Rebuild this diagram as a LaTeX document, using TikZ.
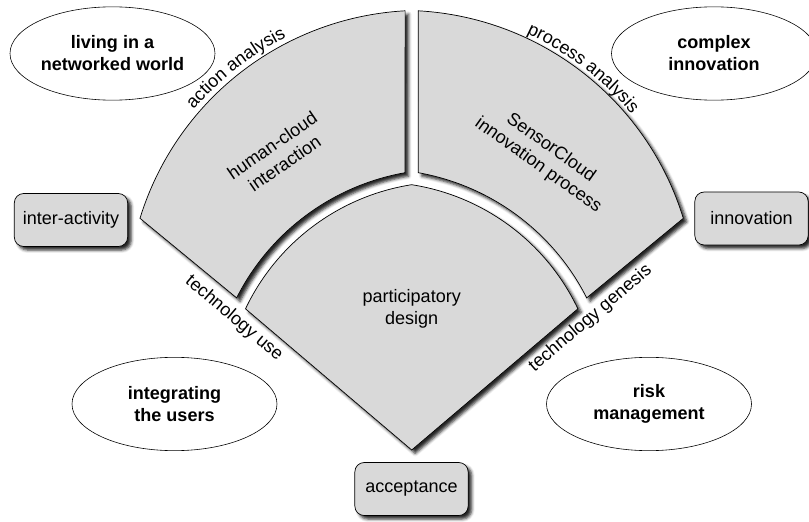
\documentclass[tikz,border=0pt]{standalone}
\usepackage{fontspec}
\setmainfont{Liberation Sans}
\usetikzlibrary{calc}
\usetikzlibrary{shapes.geometric}
\usetikzlibrary{shadows.blur}
\usetikzlibrary{decorations.text}

\begin{document}
\begin{tikzpicture}[x=.03cm, y=.03cm,
  txt/.style={font=\fontsize{15.4}{18.7}\selectfont, align=center},
  part/.style={fill=gray!30, draw=black, line width=.6pt,
    blur shadow={shadow xshift=3pt, shadow yshift=-3pt, shadow blur radius=2.5pt, shadow opacity=85}},
  field/.style={draw, ellipse, line width=.5pt, align=center, minimum width=6.15cm, minimum height=2.8cm, inner sep=0pt,
    font=\fontsize{15.4}{18.7}\selectfont\bfseries},
  goal/.style={txt, draw, fill=gray!30, line width=.6pt, rounded corners=8pt, minimum width=3.4cm, minimum height=1.59cm,
    blur shadow={shadow xshift=3pt, shadow yshift=-3pt, shadow blur radius=2.5pt, shadow opacity=85}}]
\useasboundingbox (0,0) rectangle (809,521);
\clip (0,0) rectangle (809,521);

% the three parts
\draw[part] (140,302.7) arc[start angle=162.9, end angle=93.2, radius=294.6] -- (405,348.3)
  arc[start angle=100.05, end angle=153.2, radius=234.5] -- cycle;
\draw[part] (683.3,302.7) arc[start angle=17.1, end angle=86.8, radius=294.6] -- (418.3,348.3)
  arc[start angle=79.95, end angle=26.8, radius=234.5] -- cycle;
\draw[part] (411.7,71) -- (245.5,212.2) arc[start angle=154.6, end angle=98.9, radius=222]
  arc[start angle=81.1, end angle=25.4, radius=222] -- cycle;

\node[txt, rotate=34.5] (hci) at (278.3,366.8) {human-cloud\\interaction};
\node[txt, rotate=-35.5] (sci) at (544.5,364.3) {SensorCloud\\innovation process};
\node[txt] (pd) at (411.7,212) {participatory\\design};

% labels on the edges
\path[decorate, decoration={text along path, text align=center,
  text={|\fontsize{15.4}{18.7}\selectfont|action analysis}}]
  (156.6,357) arc[start angle=152, end angle=104, radius=298.6];
\path[decorate, decoration={text along path, text align=center,
  text={|\fontsize{15.4}{18.7}\selectfont|process analysis}}]
  (471.5,506.5) arc[start angle=76.5, end angle=28.5, radius=298.6];
\node[txt, rotate=-40.3] (use) at (234,202.5) {technology use};
\node[txt, rotate=40.3] (genesis) at (590.5,202.5) {technology genesis};

% fields
\node[field] (world) at (112.5,467.5) {living in a\\networked world};
\node[field] (complex) at (714,467.5) {complex\\innovation};
\node[field] (users) at (174.5,117) {integrating\\the users};
\node[field] (risk) at (649,117) {risk\\management};

% goals
\node[goal] (interact) at (71,301) {inter-activity};
\node[goal] (innov) at (751.5,302.5) {innovation};
\node[goal] (accept) at (411.5,32) {acceptance};
\end{tikzpicture}
\end{document}
